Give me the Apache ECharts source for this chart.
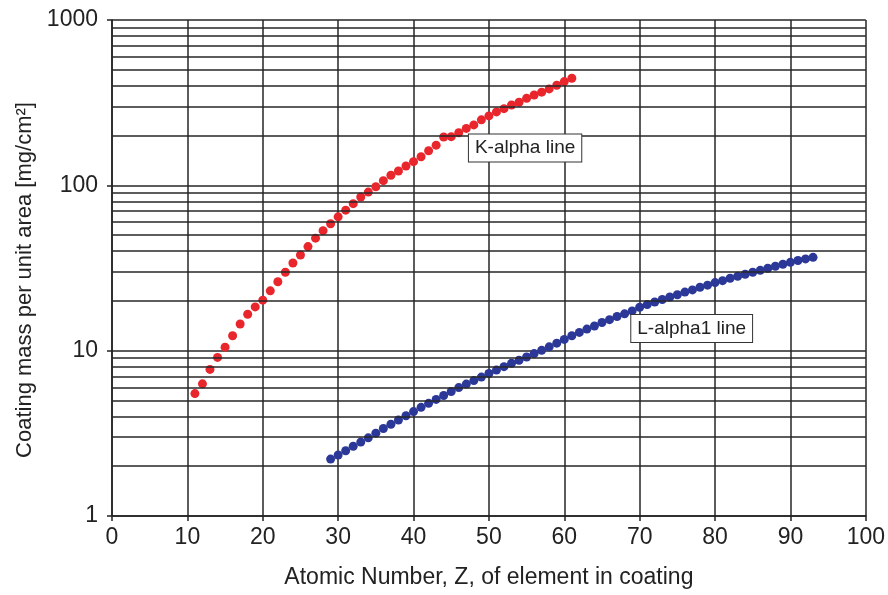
<!DOCTYPE html>
<html>
<head>
<meta charset="utf-8">
<title>Coating mass vs atomic number</title>
<script src="https://cdn.jsdelivr.net/npm/echarts@6/dist/echarts.min.js"></script>
<style>
  html, body { margin: 0; padding: 0; background: #fff; }
  #chart { width: 888px; height: 595px; }
</style>
</head>
<body>
<div id="chart"></div>
<script>
// K-alpha line, Z = 11..61
const kAlphaZ = [11, 12, 13, 14, 15, 16, 17, 18, 19, 20,
  21, 22, 23, 24, 25, 26, 27, 28, 29, 30,
  31, 32, 33, 34, 35, 36, 37, 38, 39, 40,
  41, 42, 43, 44, 45, 46, 47, 48, 49, 50,
  51, 52, 53, 54, 55, 56, 57, 58, 59, 60, 61]
const kAlphaMass = [5.5, 6.3, 7.7, 9.1, 10.5, 12.3, 14.5, 16.6, 18.4, 20.2,
  23.0, 26.1, 29.8, 33.9, 37.9, 42.6, 47.9, 53.2, 58.6, 64.5,
  70.8, 77.5, 85, 91, 98, 106.7, 115, 122, 131, 139,
  149, 162, 175, 196, 197, 208, 221, 232, 249, 263,
  278, 291, 306, 318, 336, 352, 366, 383, 403, 424, 444]

// L-alpha1 line, Z = 29..93
const lAlphaZ = [29, 30, 31, 32, 33, 34, 35, 36, 37, 38, 39, 40,
  41, 42, 43, 44, 45, 46, 47, 48, 49, 50,
  51, 52, 53, 54, 55, 56, 57, 58, 59, 60,
  61, 62, 63, 64, 65, 66, 67, 68, 69, 70,
  71, 72, 73, 74, 75, 76, 77, 78, 79, 80,
  81, 82, 83, 84, 85, 86, 87, 88, 89, 90, 91, 92, 93]
const lAlphaMass = [2.21, 2.34, 2.48, 2.64, 2.80, 2.97, 3.17, 3.38, 3.59, 3.81, 4.04, 4.28,
  4.54, 4.80, 5.07, 5.36, 5.66, 5.98, 6.28, 6.59, 6.92, 7.28,
  7.63, 8.00, 8.38, 8.75, 9.15, 9.6, 10.05, 10.55, 11.1, 11.7,
  12.3, 12.9, 13.5, 14.1, 14.8, 15.4, 16.1, 16.7, 17.4, 18.3,
  19.0, 19.7, 20.4, 21.1, 21.8, 22.6, 23.3, 24.2, 24.9, 25.8,
  26.5, 27.4, 28.2, 29.0, 29.8, 30.6, 31.5, 32.4, 33.3, 34.2, 35.1, 35.9, 36.7]

// minor grid values of the log axis
const minorGrid = [2, 3, 4, 5, 6, 7, 8, 9, 20, 30, 40, 50, 60, 70, 80, 90,
  200, 300, 400, 500, 600, 700, 800, 900]

// text boxes: [Z, mass, text]
const kLabel = [54.8, 168, 'K-alpha line']
const lLabel = [76.9, 13.6, 'L-alpha1 line']

const font = '"Liberation Sans", Arial, Helvetica, sans-serif'
const gridColor = '#262626'
const textColor = '#222'

function zip(xs, ys) {
  return xs.map((x, i) => [x, ys[i]])
}

function boxLabel(item) {
  return {
    coord: [item[0], item[1]],
    symbol: 'rect',
    symbolSize: 0,
    label: {
      show: true,
      position: 'inside',
      formatter: item[2],
      fontFamily: font,
      fontSize: 19,
      color: textColor,
      backgroundColor: '#fff',
      borderColor: '#333',
      borderWidth: 1,
      padding: [4, 6, 4, 6]
    }
  }
}

const chart = echarts.init(document.getElementById('chart'))
chart.setOption({
  animation: false,
  backgroundColor: '#fff',
  grid: { left: 112, right: 22, top: 20, bottom: 79 },
  xAxis: {
    type: 'value',
    min: 0,
    max: 100,
    interval: 10,
    name: 'Atomic Number, Z, of element in coating',
    nameLocation: 'middle',
    nameGap: 50,
    nameTextStyle: { fontFamily: font, fontSize: 23, color: textColor },
    axisLine: { show: true, lineStyle: { color: '#222', width: 1.5 } },
    axisTick: { show: true, length: 5, lineStyle: { color: '#222', width: 1.5 } },
    axisLabel: { margin: 10, fontFamily: font, fontSize: 23, color: textColor },
    splitLine: { show: true, lineStyle: { color: gridColor, width: 1.5 } }
  },
  yAxis: {
    type: 'log',
    logBase: 10,
    min: 1,
    max: 1000,
    name: 'Coating mass per unit area [mg/cm²]',
    nameLocation: 'middle',
    nameGap: 76,
    nameTextStyle: { fontFamily: font, fontSize: 22, color: textColor, padding: [0, 24, 0, 0] },
    axisLine: { show: true, lineStyle: { color: '#222', width: 1.5 } },
    axisTick: { show: true, length: 5, lineStyle: { color: '#222', width: 1.5 } },
    axisLabel: {
      margin: 14,
      fontFamily: font,
      fontSize: 23,
      color: textColor,
      formatter: v => String(Math.round(v))
    },
    splitLine: { show: true, lineStyle: { color: gridColor, width: 1.5 } }
  },
  series: [
    {
      name: 'minor grid',
      type: 'line',
      data: [],
      silent: true,
      markLine: {
        silent: true,
        symbol: 'none',
        label: { show: false },
        lineStyle: { color: gridColor, width: 1.5, type: 'solid' },
        data: minorGrid.map(v => ({ yAxis: v }))
      }
    },
    {
      name: 'K-alpha line',
      type: 'scatter',
      symbol: 'circle',
      symbolSize: 9,
      itemStyle: { color: '#e8262c', opacity: 1 },
      data: zip(kAlphaZ, kAlphaMass),
      markPoint: { data: [boxLabel(kLabel)] },
      z: 3
    },
    {
      name: 'L-alpha1 line',
      type: 'scatter',
      symbol: 'circle',
      symbolSize: 9,
      itemStyle: { color: '#2b3897', opacity: 1 },
      data: zip(lAlphaZ, lAlphaMass),
      markPoint: { data: [boxLabel(lLabel)] },
      z: 3
    }
  ]
})
</script>
</body>
</html>
